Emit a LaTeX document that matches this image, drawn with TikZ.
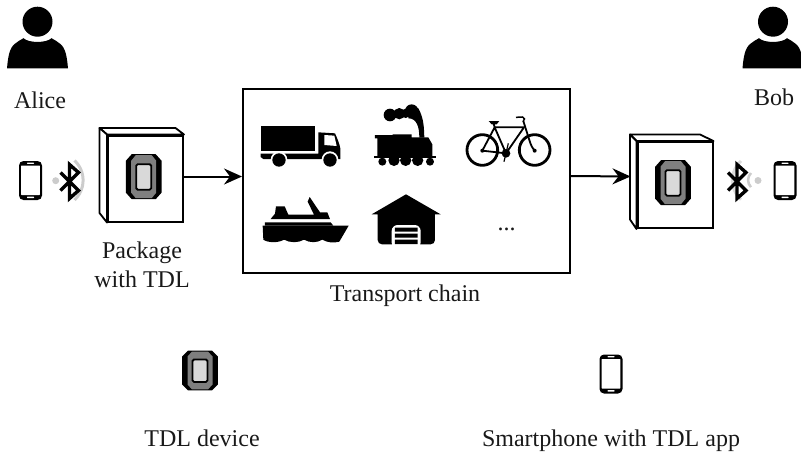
\documentclass[tikz,border=0pt]{standalone}
\usepackage{fontspec}
\setmainfont{Liberation Serif}
\usetikzlibrary{arrows.meta}
\definecolor{lightgr}{HTML}{D9D9D9}
\definecolor{midgr}{HTML}{7F7F7F}
\definecolor{signal}{HTML}{CCCCCC}
\tikzset{
  lbl/.style={font=\fontsize{24}{29}\selectfont, inner sep=0pt, align=center, text=black!90},
  flow/.style={line width=2pt, -{Stealth[length=18pt,width=16pt,inset=6pt]}},
  pkgbox/.style={draw=black, line width=2pt, fill=white, minimum width=75pt, minimum height=86pt, inner sep=0pt},
  pkgside/.style={draw=black, line width=1.8pt, fill=white, line join=round},
  zoomed/.style={x=0.33333pt, y=-0.33333pt},
  tdl/.pic={
    \fill[black] (-12,-22.5) -- (12,-22.5) -- (17.8,-16) -- (17.8,16) -- (12,22.5) -- (-12,22.5) -- (-17.8,16) -- (-17.8,-16) -- cycle;
    \fill[midgr] (-8,-21.5) -- (8,-21.5) -- (12.5,-16) -- (12.5,16) -- (8,21.5) -- (-8,21.5) -- (-12.5,16) -- (-12.5,-16) -- cycle;
    \draw[black, line width=1.8pt, fill=lightgr, rounded corners=1.5pt] (-7.5,-12.5) rectangle (7.5,13);
  },
  smallphone/.pic={
    \fill[black, rounded corners=4.5pt] (-11.5,-19.5) rectangle (11.5,19.5);
    \fill[white, rounded corners=.5pt] (-9.3,-15) rectangle (9.3,14.5);
    \fill[white, rounded corners=.5pt] (-3.5,-17.8) rectangle (3.5,-16.6);
    \fill[white, rounded corners=.5pt] (-3.5,16.2) rectangle (3.5,17.6);
  },
  person/.pic={
    \fill[black] (0,0) circle (15);
    \fill[black] (-30.5,46.7) .. controls (-29.5,35) and (-28,26) .. (-22.5,22)
      .. controls (-20,20) and (-17,18) .. (-14,16.5)
      .. controls (-9,21.5) and (9,21.5) .. (14,16.5)
      .. controls (17,18) and (20,20) .. (22.5,22)
      .. controls (28,26) and (29.5,35) .. (30.5,46.7) -- cycle;
  },
  bt/.pic={
    \draw[black, line width=3.4pt, miter limit=3]
      (-9,-9) -- (9,9) -- (0,17) -- (0,-17) -- (9,-9) -- (-9,9);
  }
}
\begin{document}
\begin{tikzpicture}[x=1pt, y=-1pt, line cap=butt]
\useasboundingbox (0,0) rectangle (801,453);
\clip (0,0) rectangle (801,453);

% people
\pic at (37.5,21.7) {person};
\pic at (773,21.7) {person};
\node[lbl] (alice) at (40,100) {Alice};
\node[lbl] (bob) at (774,97) {Bob};

% left smartphone and radio
\pic at (30.5,180.5) {smallphone};
\fill[signal] (55.7,180.7) circle (3.5);
\draw[signal, line width=3pt] (74.5,160.5) arc[start angle=-47, end angle=47, radius=27, y=1pt, x=1pt];
\pic at (69.5,181.5) {bt};

% right smartphone and radio
\pic at (785,180.5) {smallphone};
\fill[signal] (758,180.5) circle (3.5);
\draw[signal, line width=2.5pt] (751,173) arc[start angle=-135, end angle=-225, radius=10];
\draw[signal!70, line width=3pt] (741,161) arc[start angle=-132, end angle=-228, radius=26];
\pic at (737,181.5) {bt};

% packages
\node[pkgbox] (pkgA) at (145.5,178.5) {};
\draw[pkgside] (pkgA.north west) -- ++(-7.5,-6.5) -- ++(76,0) -- (pkgA.north east) -- cycle;
\draw[pkgside] (pkgA.north west) -- ++(-7.5,-6.5) -- ++(0,85) -- (pkgA.south west) -- cycle;
\pic at (143.7,176.7) {tdl};
\node[pkgbox] (pkgB) at (675,185) {};
\draw[pkgside] (pkgB.north west) -- ++(-6.5,-6.5) -- ++(70,0) -- (pkgB.north east) -- cycle;
\draw[pkgside] (pkgB.north west) -- ++(-6.5,-6.5) -- ++(0,85) -- (pkgB.south west) -- cycle;
\pic at (673,182.7) {tdl};
\node[lbl] (pkgtext) at (142,265) {Package\\with TDL};

% transport chain
\node[draw=black, line width=2pt, fill=white, minimum width=327pt, minimum height=184pt, inner sep=0pt] (chain) at (406.5,181) {};
\node[lbl] (chaintext) at (405,296) {Transport chain};
\node[lbl] (dots) at (506.5,229.5) {...};

\begin{scope}[zoomed, shift={(720,255)}]
  % truck
  \fill[black] (62,122) rectangle (225,199);
  \fill[black] (62,206) -- (235,206) -- (235,142) -- (285,145) .. controls (292,160) and (298,175) .. (301,190) -- (301,222) -- (70,222) -- (62,216) -- cycle;
  \fill[white] (253,150) -- (283,152) -- (290,183) -- (253,180) -- cycle;
  \fill[white] (117,224) circle (25) (270,224) circle (25);
  \fill[black] (117,225) circle (20) (270,225) circle (20);

  % locomotive
  \fill[black] (450,90) circle (19) (478,86) circle (17) (515,78) circle (20) (497,85) circle (14);
  \fill[black] (510,62) -- (535,70) .. controls (552,100) and (552,130) .. (553,158) -- (538,158) .. controls (538,125) and (530,100) .. (505,100) -- cycle;
  \fill[black] (405,150) -- (458,150) -- (458,148) -- (515,148) -- (515,157) -- (565,157) -- (577,178) -- (577,214) -- (412,214) -- (412,160) -- (405,160) -- cycle;
  \fill[black] (402,214) rectangle (588,219);
  \fill[black] (427,230) circle (12) (462,226) circle (17) (497,226) circle (17) (533,226) circle (17) (570,230) circle (12);

  % bicycle
  \draw[black, line width=2.8pt] (727,195) circle (46) (884,195) circle (46);
  \draw[black, line width=1.8pt, line join=round] (727,197) -- (764,127) -- (798,205) -- cycle;
  \draw[black, line width=1.8pt, line join=round] (764,127) -- (852,127) -- (798,205);
  \draw[black, line width=1.8pt] (760,112) -- (764,127);
  \draw[black, line width=1.8pt] (850,108) -- (868,165) .. controls (872,180) and (878,190) .. (884,197);
  \draw[black, line width=1.5pt] (828,97) -- (848,96) .. controls (855,97) and (855,106) .. (849,110);
  \fill[black] (746,108) -- (778,108) -- (770,118) -- (755,118) -- cycle;
  \fill[black] (798,205) circle (13) (727,197) circle (6) (884,197) circle (6);
  \draw[black, line width=1.2pt] (805,175) -- (798,205) -- (792,230);

  % ship
  \fill[black] (68,422) -- (326,422) -- (298,470) .. controls (280,474) and (265,474) .. (247,464)
    .. controls (230,474) and (210,474) .. (192,464) .. controls (175,474) and (150,474) .. (132,464)
    .. controls (115,474) and (85,474) .. (70,464) -- cycle;
  \fill[black] (75,412) -- (272,412) -- (280,422) -- (75,422) -- cycle;
  \fill[black] (92,402) -- (105,386) -- (108,364) -- (134,364) -- (145,389) -- (222,389) -- (203,350) -- (209,336) -- (240,382) -- (262,382) -- (270,402) -- cycle;

  % garage
  \fill[black] (395,388) -- (498,328) -- (602,388) -- (585,388) -- (585,465) arc[start angle=0, end angle=90, radius=13] -- (426,478) arc[start angle=90, end angle=180, radius=13] -- (413,388) -- cycle;
  \fill[white, rounded corners=6pt] (455,420) rectangle (542,490);
  \fill[black] (465,428) rectangle (533,440) (465,446) rectangle (533,458) (465,464) rectangle (533,477);
\end{scope}

% flows
\coordinate (pkgBside) at (630.5,176.5);
\draw[flow] ([yshift=2pt]pkgA.east) -- ([yshift=2pt]pkgA.east -| chain.west);
\draw[flow] ([yshift=5pt]chain.east) -- (pkgBside);

% legend
\pic[yscale=.88] at (200,370.5) {tdl};
\pic at (611,374) {smallphone};
\node[lbl] (legA) at (202,438) {TDL device};
\node[lbl] (legB) at (611,440.5) {Smartphone with TDL app};
\end{tikzpicture}
\end{document}
